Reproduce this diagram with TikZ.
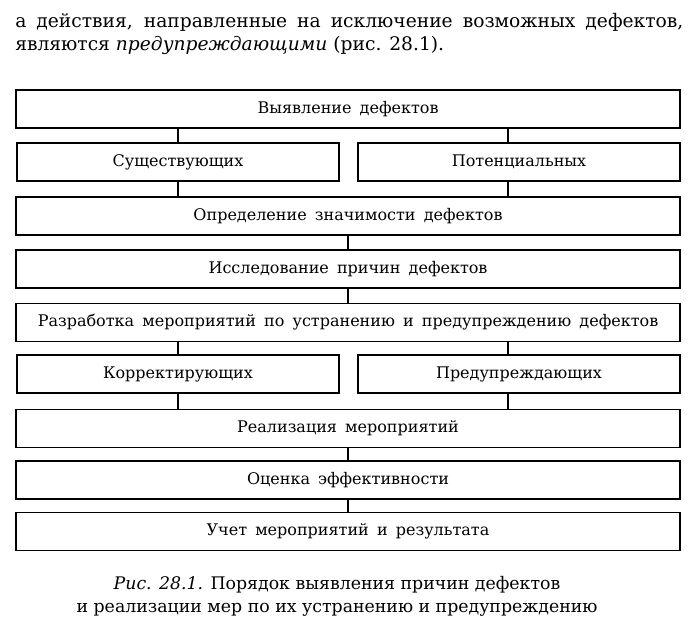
\documentclass[tikz,border=0pt]{standalone}
\usepackage{fontspec}
\setmainfont{DejaVu Serif}
\newfontfamily\boxfont[WordSpace=1.6]{DejaVu Serif}
\usepackage{tikz}
\usetikzlibrary{positioning,calc}

\begin{document}
\begin{tikzpicture}[x=0.75pt, y=-0.75pt,
      stagebox/.style={draw, line width=1.4pt, minimum width=498pt,
        minimum height=28.5pt, inner sep=0pt,
        font=\boxfont\fontsize{12}{14}\selectfont},
      halfbox/.style={stagebox, minimum width=242pt},
      link/.style={line width=0.9pt},
      bodytext/.style={inner sep=0pt, anchor=base west,
        font=\fontsize{14}{17}\selectfont},
    ]
    \useasboundingbox (0,0) rectangle (697,632);

    % Text before the figure
    \node[bodytext] (line1) at (15,27)
      {\makebox[501pt][s]{а действия, направленные на исключение возможных дефектов,}};
    \node[bodytext] (line2) at (15,50)
      {являются \textit{предупреждающими} (рис. 28.1).};

    % Branch columns
    \coordinate (lx) at (178,0);
    \coordinate (rx) at (508,0);

    % Stages
    \node[stagebox] (detect) at (348,109) {Выявление дефектов};
    \node[halfbox] (exist) at (178,162) {Существующих};
    \node[halfbox] (potential) at (519,162) {Потенциальных};
    \node[stagebox] (signif) at (348,216) {Определение значимости дефектов};
    \node[stagebox] (causes) at (348,269) {Исследование причин дефектов};
    \node[stagebox] (develop) at (348,322.5)
      {Разработка мероприятий по устранению и предупреждению дефектов};
    \node[halfbox] (correct) at (178,374) {Корректирующих};
    \node[halfbox] (prevent) at (519,374) {Предупреждающих};
    \node[stagebox] (implement) at (348,428.5) {Реализация мероприятий};
    \node[stagebox] (evaluate) at (348,480) {Оценка эффективности};
    \node[stagebox] (record) at (348,531.5) {Учет мероприятий и результата};

    % Connectors
    \draw[link] (detect.south -| lx) -- (exist.north -| lx);
    \draw[link] (detect.south -| rx) -- (potential.north -| rx);
    \draw[link] (exist.south -| lx) -- (signif.north -| lx);
    \draw[link] (potential.south -| rx) -- (signif.north -| rx);
    \draw[link] (signif) -- (causes);
    \draw[link] (causes) -- (develop);
    \draw[link] (develop.south -| lx) -- (correct.north -| lx);
    \draw[link] (develop.south -| rx) -- (prevent.north -| rx);
    \draw[link] (correct.south -| lx) -- (implement.north -| lx);
    \draw[link] (prevent.south -| rx) -- (implement.north -| rx);
    \draw[link] (implement) -- (evaluate);
    \draw[link] (evaluate) -- (record);

    % Caption
    \node[inner sep=0pt, anchor=base, font=\fontsize{13}{16}\selectfont]
      (cap1) at (337,589) {\textit{Рис. 28.1.} Порядок выявления причин дефектов};
    \node[inner sep=0pt, anchor=base, font=\fontsize{13}{16}\selectfont]
      (cap2) at (337,612) {и реализации мер по их устранению и предупреждению};
  \end{tikzpicture}
\end{document}
